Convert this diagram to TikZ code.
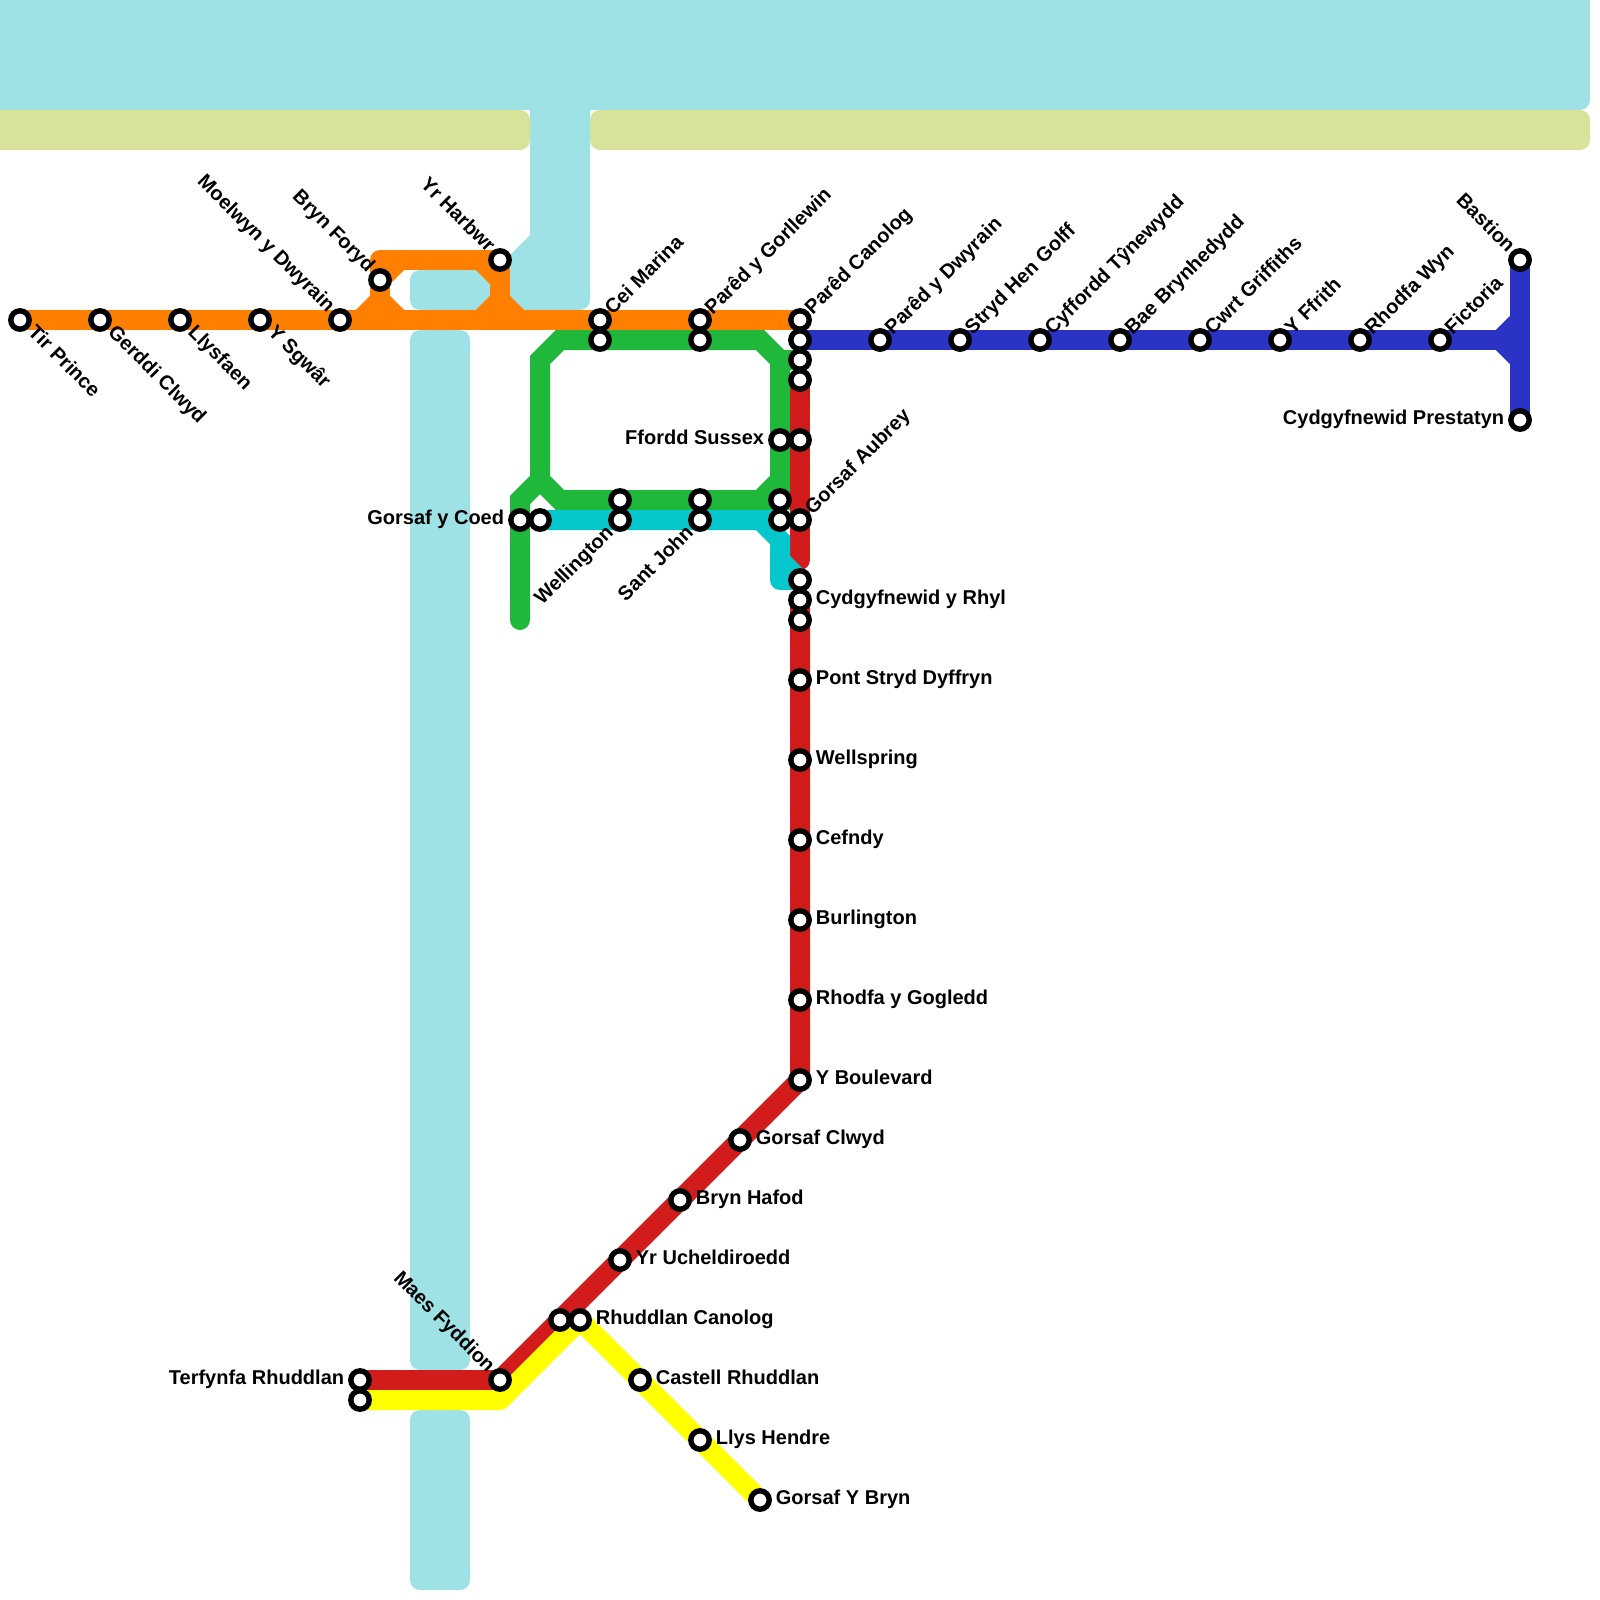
\documentclass[tikz,border=0pt]{standalone}
\usepackage{fontspec}
\setmainfont{Liberation Sans}
\usetikzlibrary{calc}
\pgfdeclarelayer{water}\pgfdeclarelayer{rail}
\pgfsetlayers{water,rail,main}
\definecolor{waterc}{HTML}{9EE2E6}
\definecolor{beachc}{HTML}{D9E29B}
\definecolor{orangec}{HTML}{FF8000}
\definecolor{greenc}{HTML}{1FB83B}
\definecolor{cyanc}{HTML}{06C8CC}
\definecolor{bluec}{HTML}{2A33C6}
\definecolor{redc}{HTML}{D21C1C}
\definecolor{yellowc}{HTML}{FFFF00}
\tikzset{
 stn/.style={circle,draw=black,fill=white,line width=2.7pt,minimum size=9.2pt,inner sep=0pt,outer sep=0pt},
 rail/.style={line width=10pt,line join=round},
 railm/.style={line width=10pt,line join=miter},
 wat/.style={fill=waterc,draw=none,rounded corners=5pt},
 beach/.style={fill=beachc,draw=none,rounded corners=5pt},
 lab/.style={font=\bfseries\fontsize{10pt}{11pt}\selectfont,inner sep=0pt,text=black,text height=7.2pt,text depth=2.1pt},
 lR/.style={lab,anchor=west},
 lL/.style={lab,anchor=east},
 lNE/.style={lab,anchor=west,rotate=45},
 lSE/.style={lab,anchor=west,rotate=-45},
 lNW/.style={lab,anchor=east,rotate=-45},
 lSW/.style={lab,anchor=east,rotate=45},
}
\newcommand{\stat}[3]{\node[stn] (#1) at (#2,#3) {};}
\newcommand{\tagE}[2]{\node[lR] (lab-#1) at ($(#1)+(15.5,-1)$) {#2};}
\newcommand{\tagW}[2]{\node[lL] (lab-#1) at ($(#1)+(-15.5,-1)$) {#2};}
\newcommand{\tagNE}[2]{\node[lNE] (lab-#1) at ($(#1)+(9,-8)$) {#2};}
\newcommand{\tagSE}[2]{\node[lSE] (lab-#1) at ($(#1)+(10.5,9.5)$) {#2};}
\newcommand{\tagNW}[2]{\node[lNW] (lab-#1) at ($(#1)+(-9,-10)$) {#2};}
\newcommand{\tagSW}[2]{\node[lSW] (lab-#1) at ($(#1)+(-9,10)$) {#2};}
\begin{document}
\begin{tikzpicture}[x=0.5pt,y=-0.5pt]
\useasboundingbox (0,0) rectangle (1600,1600);
% stations
\stat{a1}{20}{320}\stat{a2}{100}{320}\stat{a3}{180}{320}\stat{a4}{260}{320}\stat{a5}{340}{320}
\stat{bf}{380}{280}\stat{yh}{500}{260}
\stat{cm}{600}{320}\stat{cmg}{600}{340}
\stat{pg}{700}{320}\stat{pgg}{700}{340}
\stat{pc}{800}{320}\stat{pcb}{800}{340}\stat{pcg}{800}{360}\stat{pcr}{800}{380}
\stat{fsg}{780}{440}\stat{fsr}{800}{440}
\stat{wg}{620}{500}\stat{wc}{620}{520}
\stat{sjg}{700}{500}\stat{sjc}{700}{520}
\stat{gag}{780}{500}\stat{gac}{780}{520}\stat{gar}{800}{520}
\stat{gcg}{520}{520}\stat{gcc}{540}{520}
\stat{ryc}{800}{580}\stat{ry}{800}{600}\stat{ryr}{800}{620}
\stat{psd}{800}{680}\stat{ws}{800}{760}\stat{cf}{800}{840}\stat{bu}{800}{920}\stat{rg}{800}{1000}\stat{yb}{800}{1080}
\stat{gc}{740}{1140}\stat{bh}{680}{1200}\stat{yu}{620}{1260}
\stat{rcr}{560}{1320}\stat{rcy}{580}{1320}
\stat{mf}{500}{1380}
\stat{trr}{360}{1380}\stat{try}{360}{1400}
\stat{cr}{640}{1380}\stat{lh}{700}{1440}\stat{gb}{760}{1500}
\stat{b1}{880}{340}\stat{b2}{960}{340}\stat{b3}{1040}{340}\stat{b4}{1120}{340}\stat{b5}{1200}{340}\stat{b6}{1280}{340}\stat{b7}{1360}{340}\stat{b8}{1440}{340}
\stat{bs}{1520}{260}\stat{cp}{1520}{420}
% labels
\tagSE{a1}{Tir Prince}\tagSE{a2}{Gerddi Clwyd}\tagSE{a3}{Llysfaen}\tagSE{a4}{Y Sgwâr}
\tagNW{a5}{Moelwyn y Dwyrain}\tagNW{bf}{Bryn Foryd}\tagNW{yh}{Yr Harbwr}
\tagNE{cm}{Cei Marina}\tagNE{pg}{Parêd y Gorllewin}\tagNE{pc}{Parêd Canolog}
\tagNE{b1}{Parêd y Dwyrain}\tagNE{b2}{Stryd Hen Golff}\tagNE{b3}{Cyffordd Tŷnewydd}\tagNE{b4}{Bae Brynhedydd}\tagNE{b5}{Cwrt Griffiths}\tagNE{b6}{Y Ffrith}\tagNE{b7}{Rhodfa Wyn}\tagNE{b8}{Fictoria}
\tagNW{bs}{Bastion}\tagW{cp}{Cydgyfnewid Prestatyn}
\tagW{fsg}{Ffordd Sussex}\tagNE{gar}{Gorsaf Aubrey}\tagW{gcg}{Gorsaf y Coed}
\tagSW{wc}{Wellington}\tagSW{sjc}{Sant John}
\tagE{ry}{Cydgyfnewid y Rhyl}\tagE{psd}{Pont Stryd Dyffryn}\tagE{ws}{Wellspring}\tagE{cf}{Cefndy}\tagE{bu}{Burlington}\tagE{rg}{Rhodfa y Gogledd}\tagE{yb}{Y Boulevard}
\tagE{gc}{Gorsaf Clwyd}\tagE{bh}{Bryn Hafod}\tagE{yu}{Yr Ucheldiroedd}\tagE{rcy}{Rhuddlan Canolog}\tagE{cr}{Castell Rhuddlan}\tagE{lh}{Llys Hendre}\tagE{gb}{Gorsaf Y Bryn}
\tagNW{mf}{Maes Fyddion}\tagW{trr}{Terfynfa Rhuddlan}
% rail
\begin{pgfonlayer}{rail}
\coordinate (oa) at (360,320);\coordinate (ob) at (380,300);\coordinate (oc) at (400,320);
\coordinate (od) at (400,260);\coordinate (oe) at (380,260);
\coordinate (of) at (480,260);\coordinate (og) at (500,280);\coordinate (oh) at (500,300);
\coordinate (oi) at (480,320);\coordinate (oj) at (520,320);
\draw[rail,orangec] (a1.center) -- (pc.center);
\draw[railm,orangec] (oa) -- (ob) -- (oc);
\draw[rail,orangec] (ob) -- (bf.center) -- (oe) -- (yh.center);
\draw[railm,orangec] (bf.center) -- (od);
\draw[railm,orangec] (of) -- (og);
\draw[rail,orangec] (yh.center) -- (oh);
\draw[railm,orangec] (oi) -- (oh) -- (oj);
% green
\coordinate (ga) at (560,340);\coordinate (gb1) at (540,360);\coordinate (gc1) at (540,480);
\coordinate (gd) at (520,500);\coordinate (ge) at (520,620);\coordinate (gf) at (560,500);
\coordinate (gg) at (760,500);\coordinate (gh) at (780,480);\coordinate (gi) at (780,360);\coordinate (gj) at (760,340);
\draw[railm,greenc] (pcg.center) -- (gi) -- (gj) -- (ga) -- (gb1) -- (gc1) -- (gf) -- (gg) -- (gh) -- (gi);
\draw[railm,greenc] (gc1) -- (gd) -- (gcg.center);
\draw[rail,greenc,line cap=round] (gcg.center) -- (ge);
\draw[rail,greenc] (gh) -- (gag.center) -- (gg);
\fill[greenc] (770,500) rectangle (790,510);
% red
\coordinate (ra) at (800,560);
\draw[rail,redc,line cap=round] (pcr.center) -- (ra);
\draw[railm,redc] (ry.center) -- (yb.center) -- (mf.center) -- (trr.center);
% cyan
\coordinate (ca) at (760,520);\coordinate (cb) at (780,540);\coordinate (cc) at (780,560);\coordinate (cd) at (780,580);
\draw[railm,cyanc] (gcc.center) -- (ca) -- (cb) -- (cc) -- (ryc.center);
\draw[rail,cyanc] (cc) -- (cd) -- (ryc.center);
\draw[railm,cyanc] (ca) -- (gac.center);
% blue
\coordinate (ba) at (1500,340);\coordinate (bb) at (1520,320);\coordinate (bc) at (1520,360);
\draw[railm,bluec] (pcb.center) -- (ba);
\draw[railm,bluec] (bb) -- (ba) -- (bc);
\draw[railm,bluec] (bs.center) -- (cp.center);
% yellow
\coordinate (ya) at (500,1400);
\draw[rail,yellowc] (try.center) -- (ya) -- (rcy.center);
\draw[railm,yellowc] (rcy.center) -- (gb.center);
\end{pgfonlayer}
% water
\begin{pgfonlayer}{water}
\fill[wat] (-20,-20) rectangle (1590,110);
\fill[wat] (410,330) rectangle (470,1370);
\fill[wat] (410,1410) rectangle (470,1590);
\fill[waterc,draw=none] (530,100) -- (530,235) -- (510,255) -- (510,300) -- (500,300) -- (500,310) [rounded corners=5pt] -- (590,310) [sharp corners] -- (590,100) -- cycle;
\fill[wat] (410,270) rectangle (490,310);
\fill[beach] (-20,110) rectangle (530,150);
\fill[beach] (590,110) rectangle (1590,150);
\end{pgfonlayer}
\end{tikzpicture}
\end{document}
